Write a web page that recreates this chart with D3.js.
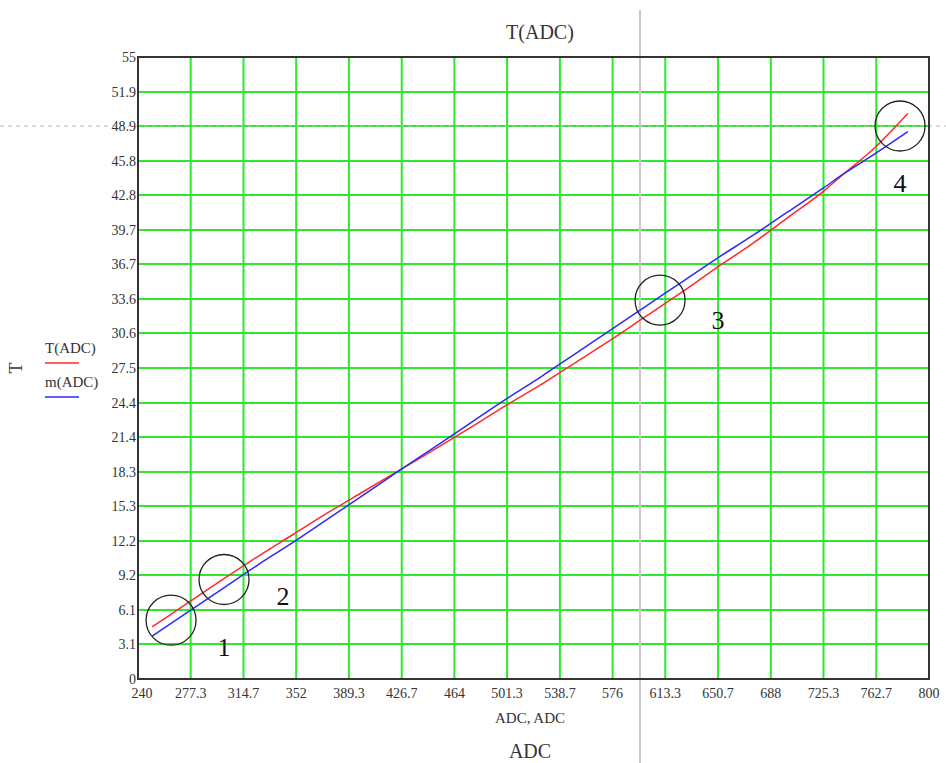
<!DOCTYPE html>
<html>
<head>
<meta charset="utf-8">
<script src="https://cdnjs.cloudflare.com/ajax/libs/d3/7.8.5/d3.min.js"></script>
<style>
  body { margin: 0; background: #fff; }
  text { font-family: "Liberation Serif", "Times New Roman", serif; fill: #333; }
</style>
</head>
<body>
<div id="chart"></div>
<script>
// data
const adc = [250, 275, 300, 325, 350, 375, 400, 427, 450, 475, 500, 525, 550, 575,
             600, 625, 650, 675, 700, 725, 740, 760, 785];
const tValues = [4.6, 6.7, 8.8, 10.85, 12.8, 14.75, 16.6, 18.6, 20.3, 22.2, 24.15, 26.0,
                 28.0, 30.0, 32.1, 34.2, 36.4, 38.5, 40.8, 43.1, 44.7, 46.8, 50.0];
const mValues = [3.8, 5.9, 8.0, 10.1, 12.1, 14.2, 16.3, 18.6, 20.5, 22.6, 24.7, 26.7,
                 28.8, 30.9, 33.0, 35.1, 37.2, 39.2, 41.3, 43.4, 44.7, 46.3, 48.4];

const xTicks = ["240", "277.3", "314.7", "352", "389.3", "426.7", "464", "501.3", "538.7",
                "576", "613.3", "650.7", "688", "725.3", "762.7", "800"];
const yTicks = ["0", "3.1", "6.1", "9.2", "12.2", "15.3", "18.3", "21.4", "24.4", "27.5",
                "30.6", "33.6", "36.7", "39.7", "42.8", "45.8", "48.9", "51.9", "55"];

// circled points and their numbers
const markAdc = [263.4, 300.9, 609.6, 779.5];
const markT = [5.2, 8.8, 33.5, 48.9];
const markLabels = ["1", "2", "3", "4"];

// crosshair position
const crossAdc = 595.4;
const crossT = 48.9;

const width = 946, height = 763;
const margin = {left: 138, right: 17, top: 57, bottom: 84};

const svg = d3.select("#chart").append("svg")
    .attr("width", width)
    .attr("height", height);

const x = d3.scaleLinear().domain([240, 800]).range([margin.left, width - margin.right]);
const y = d3.scaleLinear().domain([0, 55]).range([height - margin.bottom, margin.top]);

// grid
const grid = svg.append("g");
grid.selectAll("line.v")
    .data(xTicks.slice(1, -1))
    .enter().append("line")
    .attr("x1", d => x(+d)).attr("x2", d => x(+d))
    .attr("y1", y(0)).attr("y2", y(55))
    .attr("stroke", "#2de82d").attr("stroke-width", 2);
grid.selectAll("line.h")
    .data(yTicks.slice(1, -1))
    .enter().append("line")
    .attr("y1", d => y(+d)).attr("y2", d => y(+d))
    .attr("x1", x(240)).attr("x2", x(800))
    .attr("stroke", "#2de82d").attr("stroke-width", 2);

// crosshair
svg.append("line")
    .attr("x1", 0).attr("x2", width)
    .attr("y1", y(crossT)).attr("y2", y(crossT))
    .attr("stroke", "#bbb").attr("stroke-width", 1.2)
    .attr("stroke-dasharray", "4,4");
svg.append("line")
    .attr("x1", x(crossAdc)).attr("x2", x(crossAdc))
    .attr("y1", 10).attr("y2", height)
    .attr("stroke", "#c8c8c8").attr("stroke-width", 2);

// frame
svg.append("rect")
    .attr("x", x(240)).attr("y", y(55))
    .attr("width", x(800) - x(240)).attr("height", y(0) - y(55))
    .attr("fill", "none").attr("stroke", "#333").attr("stroke-width", 2);

// tick labels
svg.append("g").selectAll("text")
    .data(yTicks)
    .enter().append("text")
    .attr("x", x(240) - 2)
    .attr("y", d => y(+d) + 5)
    .attr("text-anchor", "end")
    .attr("font-size", 14)
    .text(d => d);
svg.append("g").selectAll("text")
    .data(xTicks)
    .enter().append("text")
    .attr("x", d => x(+d) + (d === "240" ? 4 : 0))
    .attr("y", y(0) + 19)
    .attr("text-anchor", "middle")
    .attr("font-size", 14)
    .text(d => d);

// curves
const line = d3.line()
    .x((d, i) => x(adc[i]))
    .y(d => y(d))
    .curve(d3.curveMonotoneX);

svg.append("path")
    .attr("d", line(tValues))
    .attr("fill", "none").attr("stroke", "#ff2a2a").attr("stroke-width", 1.5);
svg.append("path")
    .attr("d", line(mValues))
    .attr("fill", "none").attr("stroke", "#2a2aff").attr("stroke-width", 1.5);

// circles and numbers
const marks = svg.append("g");
marks.selectAll("circle")
    .data(markT)
    .enter().append("circle")
    .attr("cx", (d, i) => x(markAdc[i]))
    .attr("cy", d => y(d))
    .attr("r", 25)
    .attr("fill", "none").attr("stroke", "#222").attr("stroke-width", 1.3);
const labelOffset = [[53, 36], [59, 26], [58, 29], [0, 66]];
marks.selectAll("text")
    .data(markLabels)
    .enter().append("text")
    .attr("x", (d, i) => x(markAdc[i]) + labelOffset[i][0])
    .attr("y", (d, i) => y(markT[i]) + labelOffset[i][1])
    .attr("text-anchor", "middle")
    .attr("font-size", 26)
    .style("fill", "#111")
    .text(d => d);

// titles
svg.append("text")
    .attr("x", 540).attr("y", 39)
    .attr("text-anchor", "middle").attr("font-size", 20)
    .text("T(ADC)");
svg.append("text")
    .attr("x", 530).attr("y", 723)
    .attr("text-anchor", "middle").attr("font-size", 15)
    .text("ADC, ADC");
svg.append("text")
    .attr("x", 530).attr("y", 758)
    .attr("text-anchor", "middle").attr("font-size", 20)
    .text("ADC");
svg.append("text")
    .attr("transform", "translate(22,368) rotate(-90)")
    .attr("text-anchor", "middle").attr("font-size", 18)
    .text("T");

// legend
const legend = [["T(ADC)", "#ff2a2a"], ["m(ADC)", "#2a2aff"]];
legend.forEach((l, i) => {
    svg.append("text")
        .attr("x", 45).attr("y", 353 + i * 34)
        .attr("font-size", 15)
        .text(l[0]);
    svg.append("line")
        .attr("x1", 45).attr("x2", 79)
        .attr("y1", 363 + i * 34).attr("y2", 363 + i * 34)
        .attr("stroke", l[1]).attr("stroke-width", 1.5);
});
</script>
</body>
</html>
